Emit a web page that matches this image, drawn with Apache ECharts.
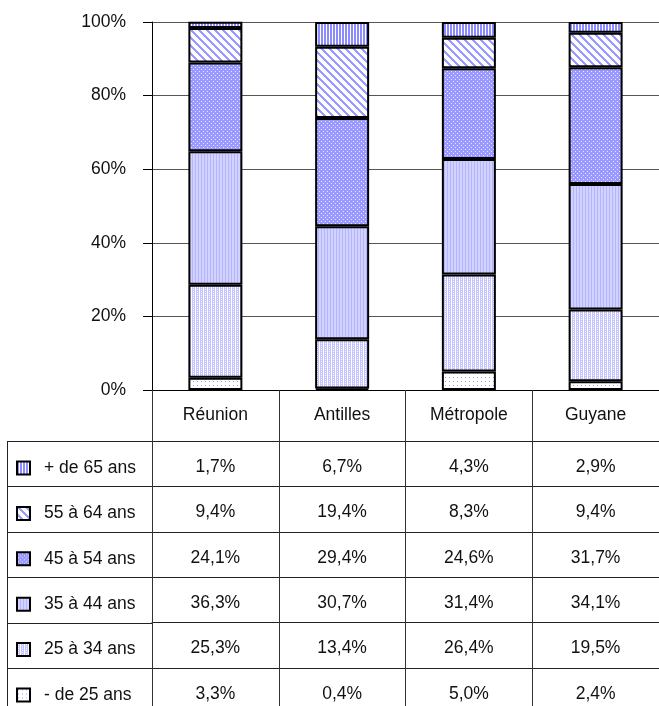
<!DOCTYPE html>
<html>
<head>
<meta charset="utf-8">
<script src="https://cdn.jsdelivr.net/npm/echarts@6/dist/echarts.min.js"></script>
<style>
  html, body { margin: 0; padding: 0; background: #fff; }
  #chart { width: 659px; height: 706px; }
</style>
</head>
<body>
<div id="chart"></div>
<script>
const regions = ['Réunion', 'Antilles', 'Métropole', 'Guyane']
const ageGroups = ['- de 25 ans', '25 à 34 ans', '35 à 44 ans', '45 à 54 ans', '55 à 64 ans', '+ de 65 ans']
const under25 = [3.3, 0.4, 5.0, 2.4]
const age25to34 = [25.3, 13.4, 26.4, 19.5]
const age35to44 = [36.3, 30.7, 31.4, 34.1]
const age45to54 = [24.1, 29.4, 24.6, 31.7]
const age55to64 = [9.4, 19.4, 8.3, 9.4]
const over65 = [1.7, 6.7, 4.3, 2.9]
const yTicks = [0, 20, 40, 60, 80, 100]

const values = [under25, age25to34, age35to44, age45to54, age55to64, over65]

const FONT = "'Liberation Sans', Arial, sans-serif"
const FS = 17.5

// small pixel patterns, drawn once into canvases
const makePattern = (w, h, bg, fg, pixels) => {
  const c = document.createElement('canvas')
  c.width = w
  c.height = h
  const ctx = c.getContext('2d')
  ctx.fillStyle = bg
  ctx.fillRect(0, 0, w, h)
  ctx.fillStyle = fg
  pixels.forEach(([x, y]) => ctx.fillRect(x, y, 1, 1))
  return { image: c, repeat: 'repeat' }
}

const diag = []
for (let y = 0; y < 8; y++) {
  for (let k = 0; k < 3; k++) diag.push([(y + k) % 8, y])
}

const patterns = [
  makePattern(4, 4, '#ffffff', '#9a9aff', [[1, 1]]),
  makePattern(4, 2, '#ffffff', '#c4c4ff', [[0, 0], [2, 1], [1, 0], [2, 0], [0, 1]]),
  makePattern(3, 2, '#d2d2ff', '#b4b4ff', [[0, 0], [0, 1]]),
  makePattern(4, 4, '#9999ff', '#e8e8ff', [[1, 1], [3, 3]]),
  makePattern(8, 8, '#ffffff', '#9a9aff', diag),
  makePattern(3, 1, '#ffffff', '#8c8cff', [[0, 0], [1, 0]])
]

const pct = v => v.toFixed(1).replace('.', ',') + '%'

const rowStart = 51
const rowH = 45.4

// table rows run from the oldest group down to the youngest
const rowOrder = ageGroups.map((g, i) => ageGroups.length - 1 - i)

// one extra x axis per table row
const tableAxes = rowOrder.map((s, i) => ({
  type: 'category',
  data: regions,
  position: 'bottom',
  offset: rowStart + rowH * i,
  axisLine: { lineStyle: { color: '#222', width: 1 } },
  axisTick: { show: false },
  axisLabel: {
    margin: 17,
    color: '#111',
    fontFamily: FONT,
    fontSize: FS,
    formatter: (v, idx) => pct(values[s][idx])
  }
}))

// one legend per table row so each key sits in its own cell
const legends = rowOrder.map((s, i) => ({
  orient: 'vertical',
  left: 16,
  top: 390 + rowStart + rowH * i + 26 - 8,
  padding: 0,
  icon: 'rect',
  itemWidth: 13,
  itemHeight: 13,
  selectedMode: false,
  data: [ageGroups[s]],
  textStyle: { fontFamily: FONT, fontSize: FS, color: '#111', padding: [0, 0, 0, 9] }
}))

const chart = echarts.init(document.getElementById('chart'))

chart.setOption({
  animation: false,
  grid: { left: 152, right: -9, top: 22, bottom: 316 },
  legend: legends,
  xAxis: [
    {
      type: 'category',
      data: regions,
      position: 'bottom',
      axisLine: { lineStyle: { color: '#000', width: 1 } },
      axisTick: { show: true, length: 316, lineStyle: { color: '#333' } },
      axisLabel: { margin: 16, color: '#111', fontFamily: FONT, fontSize: FS }
    },
    ...tableAxes
  ],
  yAxis: {
    type: 'value',
    min: yTicks[0],
    max: yTicks[yTicks.length - 1],
    interval: 20,
    axisLine: { show: true, lineStyle: { color: '#000' } },
    axisTick: { show: true, length: 9, lineStyle: { color: '#000' } },
    axisLabel: { margin: 26, color: '#111', fontFamily: FONT, fontSize: FS, formatter: '{value}%' },
    splitLine: { lineStyle: { color: '#555', width: 1 } }
  },
  series: values.map((data, i) => ({
    name: ageGroups[i],
    type: 'bar',
    stack: 'total',
    barWidth: 54,
    data: data,
    itemStyle: { color: patterns[i], borderColor: '#000', borderWidth: 2 }
  })),
  graphic: [
    // legend column borders of the data table
    { type: 'line', shape: { x1: 7.5, y1: 441, x2: 7.5, y2: 706 }, style: { stroke: '#222', lineWidth: 1 } },
    ...ageGroups.map((g, i) => ({
      type: 'line',
      shape: { x1: 7, y1: Math.round(390 + rowStart + rowH * i) + 0.5, x2: 152, y2: Math.round(390 + rowStart + rowH * i) + 0.5 },
      style: { stroke: '#222', lineWidth: 1 }
    }))
  ]
})
</script>
</body>
</html>
